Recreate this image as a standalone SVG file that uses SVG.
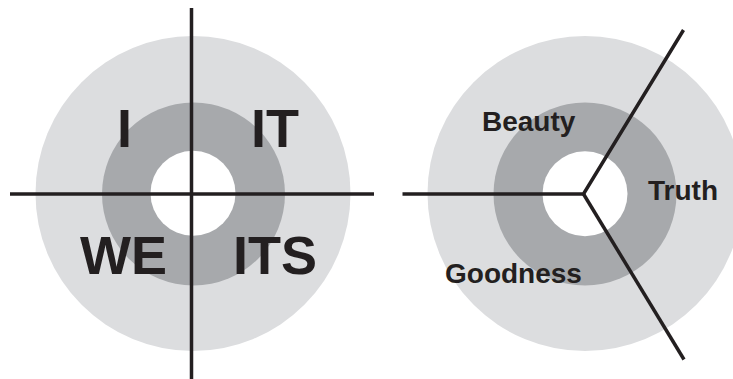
<svg xmlns="http://www.w3.org/2000/svg" width="733" height="379" viewBox="0 0 733 379">
<style>
.outer{fill:#dcdddf}
.mid{fill:#a7a9ac}
.inner{fill:#ffffff}
.ln{stroke:#231f20;stroke-width:3.5;fill:none;stroke-linejoin:miter}
.big{font-family:"Liberation Sans",Arial,sans-serif;font-weight:bold;font-size:54px;fill:#231f20}
.sm{font-family:"Liberation Sans",Arial,sans-serif;font-weight:bold;font-size:28px;fill:#231f20}
</style>
<rect width="733" height="379" fill="#ffffff"/>
<g id="quadrants">
<circle class="outer" cx="193" cy="193.5" r="157.5"/>
<circle class="mid" cx="193.5" cy="194" r="91.5"/>
<circle class="inner" cx="193" cy="193.3" r="42.5"/>
<text class="big" x="117" y="147">I</text>
<text class="big" x="251" y="147">IT</text>
<text class="big" x="80" y="274">WE</text>
<text class="big" x="233" y="274">ITS</text>
</g>
<g id="values">
<circle class="outer" cx="585" cy="193.5" r="157.5"/>
<circle class="mid" cx="585" cy="194" r="91.5"/>
<circle class="inner" cx="585" cy="193.8" r="42.5"/>
<text class="sm" x="482" y="131">Beauty</text>
<text class="sm" x="648" y="200">Truth</text>
<text class="sm" x="445" y="283">Goodness</text>
</g>
<g id="connectors">
<line class="ln" x1="191.5" y1="8" x2="191.5" y2="379"/>
<line class="ln" x1="10" y1="194" x2="374" y2="194"/>
<polyline class="ln" points="402.5,194 583.5,194 683.5,30"/>
<line class="ln" x1="583.5" y1="194" x2="684" y2="359.5"/>
</g>
</svg>
